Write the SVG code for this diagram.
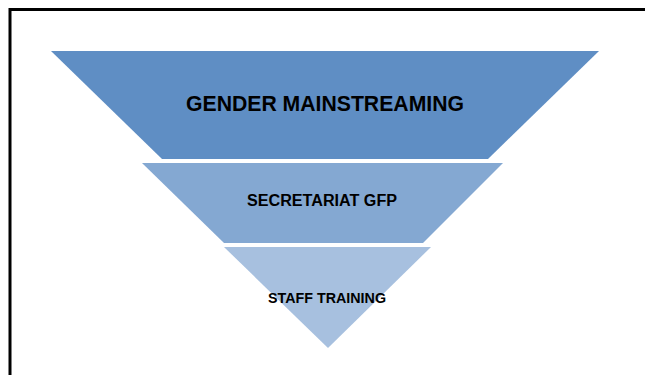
<svg xmlns="http://www.w3.org/2000/svg" width="645" height="375" viewBox="0 0 645 375">
<style>
.lbl{font-family:"Liberation Sans",Arial,sans-serif;font-weight:bold;fill:#000;text-anchor:middle;dominant-baseline:central}
</style>
<rect x="0" y="0" width="645" height="375" fill="#fff"/>
<rect x="10" y="9.5" width="660" height="400" fill="none" stroke="#000" stroke-width="3"/>
<g id="level1">
<polygon points="51,51 599,51 488,159 162,159" fill="#5f8ec4"/>
<text class="lbl" x="325" y="103" font-size="22" textLength="278" lengthAdjust="spacingAndGlyphs">GENDER MAINSTREAMING</text>
</g>
<g id="level2">
<polygon points="142,163 503,163 423,243 224,243" fill="#84a8d2"/>
<text class="lbl" x="322" y="200" font-size="16" textLength="150" lengthAdjust="spacingAndGlyphs">SECRETARIAT GFP</text>
</g>
<g id="level3">
<polygon points="224,247 431,247 328,348" fill="#a7c0df"/>
<text class="lbl" x="327" y="297" font-size="15" textLength="118" lengthAdjust="spacingAndGlyphs">STAFF TRAINING</text>
</g>
<g id="connectors"></g>
</svg>
